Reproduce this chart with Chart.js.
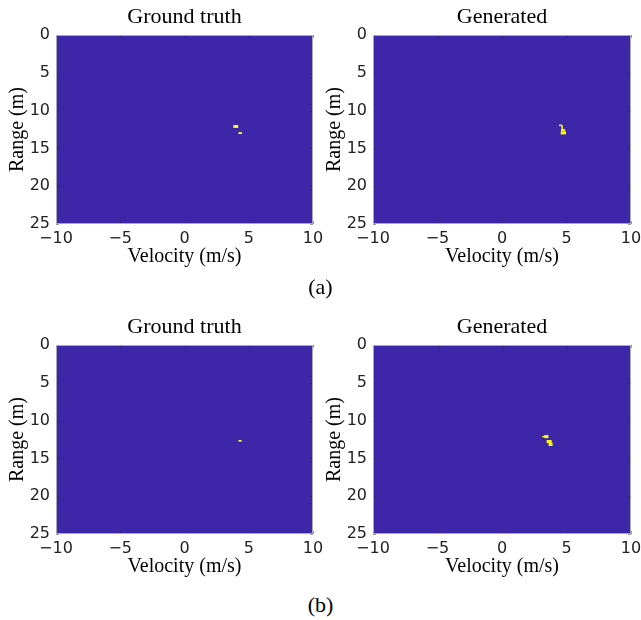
<!DOCTYPE html>
<html>
<head>
<meta charset="utf-8">
<script src="https://cdn.jsdelivr.net/npm/chart.js@4"></script>
<style>
  html, body { margin: 0; padding: 0; background: #fff; overflow: hidden; }
  body { width: 641px; height: 620px; position: relative; }
  canvas { position: absolute; }
  .cap { position: absolute; width: 641px; left: 0; text-align: center;
         font: 22px/22px "Liberation Serif", serif; color: #000; }
</style>
</head>
<body>
<canvas id="gtA" width="330" height="280" style="left:0;top:0"></canvas>
<canvas id="genA" width="330" height="280" style="left:317px;top:0"></canvas>
<div class="cap" style="top:276px">(a)</div>
<canvas id="gtB" width="330" height="280" style="left:0;top:310px"></canvas>
<canvas id="genB" width="330" height="280" style="left:317px;top:310px"></canvas>
<div class="cap" style="top:594px">(b)</div>
<script>
const velocityTicks = [-10, -5, 0, 5, 10];
const rangeTicks = [0, 5, 10, 15, 20, 25];

// detected cells, each [vMin, vMax, rMin, rMax] in m/s and m
const gtA = [
  [3.80, 4.18, 11.90, 12.30],
  [4.20, 4.48, 12.85, 13.10]
];
const genA = [
  [4.42, 4.68, 11.85, 12.05],
  [4.60, 4.72, 12.00, 12.50],
  [4.58, 4.90, 12.45, 12.75],
  [4.55, 4.96, 12.75, 13.15]
];
const gtB = [
  [4.20, 4.45, 12.57, 12.79]
];
const genB = [
  [3.12, 3.36, 12.04, 12.22],
  [3.28, 3.60, 11.90, 12.32],
  [3.46, 3.85, 12.57, 12.98],
  [3.61, 3.92, 12.90, 13.36]
];

const FIELD = '#3e26a8';
const PEAK = '#f9fb15';

const cellPlugin = {
  id: 'cells',
  beforeDatasetsDraw(chart, args, opts) {
    const { ctx, scales: { x, y } } = chart;
    const rect = (v0, v1, r0, r1) => {
      const x0 = x.getPixelForValue(v0), x1 = x.getPixelForValue(v1);
      const y0 = y.getPixelForValue(r0), y1 = y.getPixelForValue(r1);
      ctx.fillRect(Math.min(x0, x1), Math.min(y0, y1), Math.abs(x1 - x0), Math.abs(y1 - y0));
    };
    ctx.save();
    ctx.fillStyle = FIELD;
    rect(x.min, x.max, y.min, y.max);
    ctx.fillStyle = PEAK;
    for (const c of opts.cells) rect(c[0], c[1], c[2], c[3]);
    ctx.restore();
  },
  afterDatasetsDraw(chart) {
    const { ctx, chartArea: a, scales: { x, y } } = chart;
    ctx.save();
    // inward tick marks
    ctx.strokeStyle = 'rgba(30,30,30,0.45)';
    ctx.lineWidth = 1;
    ctx.beginPath();
    x.ticks.forEach(t => {
      const px = Math.round(x.getPixelForValue(t.value)) + 0.5;
      ctx.moveTo(px, a.bottom); ctx.lineTo(px, a.bottom - 3);
      ctx.moveTo(px, a.top); ctx.lineTo(px, a.top + 3);
    });
    y.ticks.forEach(t => {
      const py = Math.round(y.getPixelForValue(t.value)) + 0.5;
      ctx.moveTo(a.left, py); ctx.lineTo(a.left + 3, py);
      ctx.moveTo(a.right, py); ctx.lineTo(a.right - 3, py);
    });
    ctx.stroke();
    // axes box
    ctx.strokeStyle = '#a8a8b8';
    ctx.strokeRect(a.left + 0.5, a.top + 0.5, a.width - 1, a.height - 1);
    ctx.restore();
  }
};

const tickFont = { family: '"DejaVu Sans", sans-serif', size: 16 };
const labelFont = { family: '"Liberation Serif", serif', size: 20 };
const minus = v => String(v).replace('-', '\u2212');

function drawMap(id, title, cells, padRight) {
  const vMin = velocityTicks[0], vMax = velocityTicks[velocityTicks.length - 1];
  new Chart(document.getElementById(id), {
    type: 'scatter',
    data: { datasets: [] },
    plugins: [cellPlugin],
    options: {
      responsive: false,
      animation: false,
      layout: { padding: { left: 0, top: 0, right: padRight, bottom: 0 } },
      plugins: {
        legend: { display: false },
        tooltip: { enabled: false },
        cells: { cells: cells }
      },
      scales: {
        // top axis only carries the panel heading, centred over the plot
        top: {
          type: 'linear',
          position: 'top',
          min: vMin,
          max: vMax,
          afterFit: s => { s.height = 35; },
          grid: { display: false, drawTicks: false },
          border: { display: false },
          ticks: { display: false },
          title: {
            display: true, text: title, color: '#000',
            font: { family: '"Liberation Serif", serif', size: 22, lineHeight: 1.14 },
            padding: { top: 5, bottom: 0 }
          }
        },
        x: {
          type: 'linear',
          position: 'bottom',
          min: vMin,
          max: vMax,
          afterBuildTicks: s => { s.ticks = velocityTicks.map(v => ({ value: v })); },
          afterFit: s => { s.height = 56; },
          grid: { display: false, drawTicks: false },
          border: { display: false },
          ticks: { font: tickFont, color: '#222', padding: 5, maxRotation: 0, callback: minus },
          title: { display: true, text: 'Velocity (m/s)', color: '#000', font: labelFont, padding: { top: 0, bottom: 11 } }
        },
        y: {
          type: 'linear',
          reverse: true,
          min: rangeTicks[0],
          max: rangeTicks[rangeTicks.length - 1],
          afterBuildTicks: s => { s.ticks = rangeTicks.map(v => ({ value: v })); },
          afterFit: s => { s.width = 56; },
          grid: { display: false, drawTicks: false },
          border: { display: false },
          ticks: { font: tickFont, color: '#222', padding: 6, callback: minus },
          title: { display: true, text: 'Range (m)', color: '#000', font: labelFont, padding: { top: 6, bottom: 0 } }
        }
      }
    }
  });
}

drawMap('gtA', 'Ground truth', gtA, 17);
drawMap('genA', 'Generated', genA, 16);
drawMap('gtB', 'Ground truth', gtB, 17);
drawMap('genB', 'Generated', genB, 16);
</script>
</body>
</html>
